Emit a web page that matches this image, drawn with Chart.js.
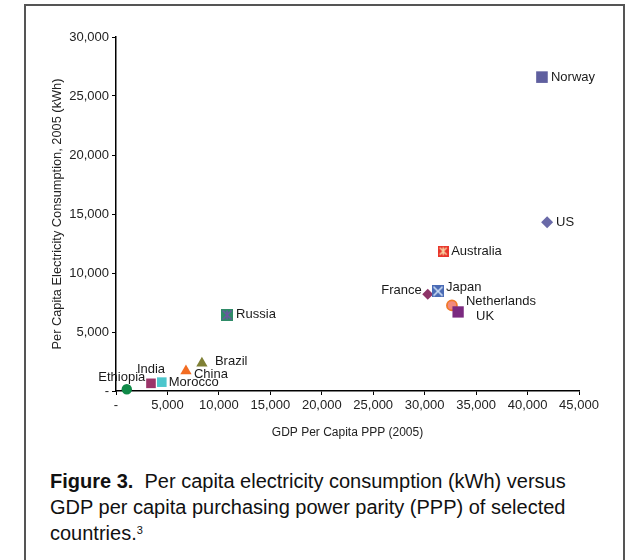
<!DOCTYPE html>
<html><head><meta charset="utf-8">
<script src="https://cdn.jsdelivr.net/npm/chart.js@4.4.1/dist/chart.umd.min.js"></script>
<style>
html,body{margin:0;padding:0;background:#fff;}
body{width:630px;height:560px;position:relative;overflow:hidden;font-family:"Liberation Sans",Arial,Helvetica,sans-serif;}
#frame{position:absolute;left:24px;top:4px;width:601px;height:620px;border:2px solid #555;box-sizing:border-box;}
#wrap{position:absolute;left:0;top:0;width:630px;height:460px;}
#cap{position:absolute;left:50px;top:468px;width:575px;font-size:20px;line-height:26px;color:#111;white-space:nowrap;}
#cap sup{font-size:11px;vertical-align:top;position:relative;top:-3px;}
</style></head>
<body>
<div id="frame"></div>
<div id="wrap"><canvas id="c" width="630" height="460"></canvas></div>
<div id="cap"><b>Figure 3.</b>&nbsp; Per capita electricity consumption (kWh) versus<br>GDP per capita purchasing power parity (PPP) of selected<br>countries.<sup>3</sup></div>
<script>
// ---- data ----
const countries = ["Norway","US","Australia","France","Japan","Netherlands","UK","Russia","Brazil","China","India","Morocco","Ethiopia"];
const gdpPerCapita = [41400, 41900, 31800, 30300, 31300, 32650, 33250, 10800, 8350, 6800, 3400, 4450, 1050];
const electricityPerCapita = [26600, 14300, 11850, 8200, 8450, 7250, 6700, 6450, 2350, 1700, 650, 750, 150];
const xTickValues = [0,5000,10000,15000,20000,25000,30000,35000,40000,45000];
const yTickValues = [0,5000,10000,15000,20000,25000,30000];

// ---- styles ----
function markerCanvas(size, draw){
  const c=document.createElement('canvas'); c.width=size; c.height=size;
  const g=c.getContext('2d'); draw(g,size); return c;
}
const australiaMark = markerCanvas(11,(g,s)=>{
  g.fillStyle='#e8352b'; g.fillRect(0,0,s,s);
  g.strokeStyle='#f8d8a8'; g.lineWidth=1.4;
  g.beginPath(); g.moveTo(2,2); g.lineTo(s-2,s-2); g.moveTo(s-2,2); g.lineTo(2,s-2);
  g.moveTo(s/2,1.5); g.lineTo(s/2,s-1.5); g.stroke();
});
const japanMark = markerCanvas(12,(g,s)=>{
  g.fillStyle='#4a6bb5'; g.fillRect(0,0,s,s);
  g.strokeStyle='#cfe0f5'; g.lineWidth=1.6;
  g.beginPath(); g.moveTo(1.5,1.5); g.lineTo(s-1.5,s-1.5); g.moveTo(s-1.5,1.5); g.lineTo(1.5,s-1.5); g.stroke();
});
const russiaMark = markerCanvas(12,(g,s)=>{
  g.fillStyle='#2f8c68'; g.fillRect(0,0,s,s);
  g.strokeStyle='#6b58a0'; g.lineWidth=1.6;
  g.beginPath(); g.moveTo(1.5,1.5); g.lineTo(s-1.5,s-1.5); g.moveTo(s-1.5,1.5); g.lineTo(1.5,s-1.5);
  g.moveTo(s/2,1.5); g.lineTo(s/2,s-1.5); g.stroke();
});
const pointStyles = ['rect','rectRot',australiaMark,'rectRot',japanMark,'circle','rect',russiaMark,'triangle','triangle','rect','rect','circle'];
const pointColors = ['#5f5f9f','#6a6aa8','#e8352b','#8d3468','#4a6bb5','#f28a7e','#7b2a80','#2f8c68','#7f8035','#f26c22','#9b3469','#4cc6cc','#108a48'];
const pointBorders = ['#5f5f9f','#6a6aa8','#e8352b','#8d3468','#4a6bb5','#f07a2a','#7b2a80','#2f8c68','#7f8035','#f26c22','#9b3469','#4cc6cc','#108a48'];
const pointRadii = [8.2,6,6,5.5,6,5,8,6,6.5,6.5,6.8,6.8,5.2];
const pointBorderW = [0,0,0,0,0,1.8,0,0,0,0,0,0,0];
// label offsets [dx, dy, align]
const labelOffsets = [[9,0,'left'],[9,0,'left'],[8,0,'left'],[-6,-4,'right'],[8,-4,'left'],[14,-4,'left'],[18,4,'left'],[9,0,'left'],[13,-2,'left'],[8,3,'left'],[0,-14,'center'],[7,0,'left'],[-5,-12,'center']];

const labelPlugin = {
  id:'pointLabels',
  afterDatasetsDraw(chart){
    const ctx=chart.ctx; const meta=chart.getDatasetMeta(0);
    ctx.save();
    ctx.font='13px "Liberation Sans", Arial, Helvetica, sans-serif';
    ctx.fillStyle='#1a1a1a'; ctx.textBaseline='middle';
    meta.data.forEach((pt,i)=>{
      const o=labelOffsets[i]; ctx.textAlign=o[2];
      ctx.fillText(countries[i], pt.x+o[0], pt.y+o[1]);
    });
    ctx.restore();
  }
};

const fmt = v => v===0 ? '-' : v.toLocaleString('en-US');
const tickFont = {family:'"Liberation Sans", Arial, Helvetica, sans-serif', size:13};
const titleFont = {family:'"Liberation Sans", Arial, Helvetica, sans-serif', size:12.8};
const xTitleFont = {family:'"Liberation Sans", Arial, Helvetica, sans-serif', size:12};

new Chart(document.getElementById('c'), {
  type:'scatter',
  data:{datasets:[{
    label:'Countries',
    data: countries.map((c,i)=>({x:gdpPerCapita[i], y:electricityPerCapita[i]})),
    pointStyle: pointStyles,
    backgroundColor: pointColors,
    borderColor: pointBorders,
    borderWidth: pointBorderW,
    pointRadius: pointRadii,
    pointHoverRadius: pointRadii,
    clip: false
  }]},
  options:{
    responsive:false, animation:false, devicePixelRatio:1,
    layout:{padding:{left:36, right:51, top:37, bottom:13}},
    plugins:{legend:{display:false}, tooltip:{enabled:false}},
    scales:{
      x:{
        type:'linear', min:0, max:45000,
        afterBuildTicks: s => { s.ticks = xTickValues.map(v=>({value:v})); },
        afterFit: s => { s.height = 56; },
        ticks:{callback:fmt, font:tickFont, color:'#222', padding:3, maxRotation:0, autoSkip:false},
        grid:{display:true, drawOnChartArea:false, drawTicks:true, tickLength:4, color:'#000', lineWidth:1},
        border:{display:true, color:'#000', width:1.5},
        title:{display:true, text:'GDP Per Capita PPP (2005)', font:xTitleFont, color:'#222', padding:{top:0,bottom:7}}
      },
      y:{
        type:'linear', min:0, max:30000,
        afterBuildTicks: s => { s.ticks = yTickValues.map(v=>({value:v})); },
        afterFit: s => { s.width = 80; },
        ticks:{callback:fmt, font:tickFont, color:'#222', padding:3, autoSkip:false},
        grid:{display:true, drawOnChartArea:false, drawTicks:true, tickLength:4, color:'#000', lineWidth:1},
        border:{display:true, color:'#000', width:1.5},
        title:{display:true, text:'Per Capita Electricity Consumption, 2005 (kWh)', font:titleFont, color:'#222', padding:{top:14,bottom:0}}
      }
    }
  },
  plugins:[labelPlugin]
});
</script>
</body></html>
